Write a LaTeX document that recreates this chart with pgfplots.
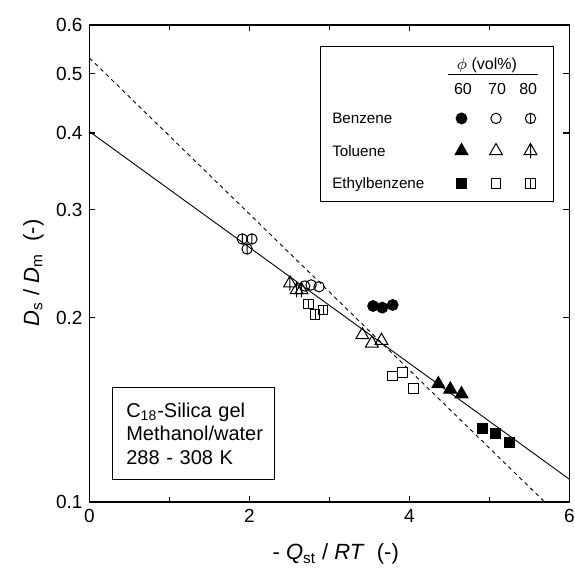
\documentclass[border=0pt]{standalone}
\usepackage{fontspec}
\setmainfont{Liberation Sans}
\usepackage{pgfplots}
\pgfplotsset{compat=1.18}

\pgfdeclareplotmark{ophi}{%
  \pgfpathcircle{\pgfpointorigin}{\pgfplotmarksize}%
  \pgfpathmoveto{\pgfqpoint{0pt}{\pgfplotmarksize}}%
  \pgfpathlineto{\pgfqpoint{0pt}{-\pgfplotmarksize}}%
  \pgfusepathqstroke}
\pgfdeclareplotmark{trisl}{%
  \pgfpathmoveto{\pgfqpoint{0pt}{\pgfplotmarksize}}%
  \pgfpathlineto{\pgfqpointpolar{-30}{\pgfplotmarksize}}%
  \pgfpathlineto{\pgfqpointpolar{-150}{\pgfplotmarksize}}%
  \pgfpathclose
  \pgfpathmoveto{\pgfqpoint{0pt}{\pgfplotmarksize}}%
  \pgfpathlineto{\pgfqpoint{0pt}{-\pgfplotmarksize}}%
  \pgfusepathqstroke}
\pgfdeclareplotmark{sqline}{%
  \pgfpathrectangle{\pgfqpoint{-\pgfplotmarksize}{-\pgfplotmarksize}}{\pgfqpoint{2\pgfplotmarksize}{2\pgfplotmarksize}}%
  \pgfpathmoveto{\pgfqpoint{0pt}{\pgfplotmarksize}}%
  \pgfpathlineto{\pgfqpoint{0pt}{-\pgfplotmarksize}}%
  \pgfusepathqstroke}

\tikzset{
  mB60/.style={mark=*, mark size=2.7pt, mark options={draw=black, fill=black, line width=0.5pt}},
  mB70/.style={mark=o, mark size=2.6pt, mark options={draw=black, fill=none, line width=0.5pt}},
  mB80/.style={mark=ophi, mark size=2.6pt, mark options={draw=black, fill=none, line width=0.5pt}},
  mT60/.style={mark=triangle*, mark size=3.7pt, mark options={draw=black, fill=black, line width=0.5pt}},
  mT70/.style={mark=triangle, mark size=3.7pt, mark options={draw=black, fill=none, line width=0.5pt}},
  mT80/.style={mark=trisl, mark size=3.7pt, mark options={draw=black, fill=none, line width=0.5pt}},
  mE60/.style={mark=square*, mark size=2.5pt, mark options={draw=black, fill=black, line width=0.5pt}},
  mE70/.style={mark=square, mark size=2.4pt, mark options={draw=black, fill=none, line width=0.5pt}},
  mE80/.style={mark=sqline, mark size=2.4pt, mark options={draw=black, fill=none, line width=0.5pt}},
}
\pgfplotsset{
  legmark/.style={legend image code/.code={%
    \path[draw=none,fill=none] (-8.125pt,-8.125pt) rectangle (8.125pt,8.125pt);
    \path[#1] plot[only marks] coordinates {(0pt,0pt)};}},
}

\pgfplotstableread{
x y
3.545 0.2088
3.66 0.2075
3.79 0.2096
}\benzA
\pgfplotstableread{
x y
2.69 0.2251
2.77 0.2260
2.87 0.2245
}\benzB
\pgfplotstableread{
x y
1.91 0.2686
2.03 0.2686
1.97 0.2587
}\benzC
\pgfplotstableread{
x y
4.36 0.1558
4.51 0.1527
4.65 0.1500
}\tolA
\pgfplotstableread{
x y
3.41 0.1873
3.53 0.1815
3.65 0.1833
}\tolB
\pgfplotstableread{
x y
2.506 0.2274
2.59 0.2218
2.65 0.2218
}\tolC
\pgfplotstableread{
x y
4.91 0.1316
5.08 0.1294
5.25 0.1250
}\ethA
\pgfplotstableread{
x y
3.79 0.1605
3.915 0.1625
4.05 0.1533
}\ethB
\pgfplotstableread{
x y
2.735 0.2104
2.82 0.2024
2.92 0.2057
}\ethC

\newcommand{\legfont}{\fontsize{7.6}{9}\selectfont}
\newcommand{\numfont}{\fontsize{8}{9}\selectfont}

\begin{document}
\begin{tikzpicture}
\path[use as bounding box] (-44.75pt,-34.5pt) rectangle (242.75pt,251pt);
\begin{axis}[
  width=240pt, height=238.5pt, scale only axis,
  xmin=0, xmax=6, ymin=0.1, ymax=0.6, ymode=log,
  xtick={0,2,4,6}, minor xtick={1,3,5},
  ytick={0.1,0.2,0.3,0.4,0.5,0.6}, yticklabels={0.1,0.2,0.3,0.4,0.5,0.6},
  yminorticks=false,
  tick align=inside, major tick length=3pt, minor tick length=2.6pt,
  tick style={black, line width=0.6pt},
  axis line style={line width=0.8pt},
  ticklabel style={font=\fontsize{9.5}{11}\selectfont},
  /pgf/number format/assume math mode=true,
  xlabel={- \textit{Q}\textsubscript{st} / \textit{RT}\ \ (-)},
  ylabel={\textit{D}\textsubscript{s} / \textit{D}\textsubscript{m}\ \ (-)},
  xlabel style={at={(axis description cs:0.513,0)}, anchor=base, yshift=-29pt, font=\fontsize{11}{13}\selectfont},
  ylabel style={at={(axis description cs:0,0.48)}, anchor=center, yshift=28pt, font=\fontsize{11}{13}\selectfont},
  legend columns=3,
  legend style={at={(rel axis cs:0.849,0.736)}, anchor=center,
    draw=none, fill=none,
    inner sep=0pt, outer sep=0pt,
    /tikz/column sep=0pt, /tikz/row sep=0pt,
    nodes={inner sep=0pt, outer sep=0pt, draw=none, fill=none}},
]
\addplot[black, line width=0.45pt, forget plot] coordinates {(0,0.402) (6,0.1089)};
\addplot[black, line width=0.45pt, dash pattern=on 2pt off 1.8pt, forget plot] coordinates {(0,0.530) (5.69,0.1)};

\addplot[only marks, mB80, forget plot] table {\benzC};
\addplot[only marks, mB70, forget plot] table {\benzB};
\addplot[only marks, mB60, forget plot] table {\benzA};
\addplot[only marks, mT80, forget plot] table {\tolC};
\addplot[only marks, mT70, forget plot] table {\tolB};
\addplot[only marks, mT60, forget plot] table {\tolA};
\addplot[only marks, mE80, forget plot] table {\ethC};
\addplot[only marks, mE70, forget plot] table {\ethB};
\addplot[only marks, mE60, forget plot] table {\ethA};

\addlegendimage{legmark=mB60}\addlegendentry{\mbox{}}
\addlegendimage{legmark=mB70}\addlegendentry{\mbox{}}
\addlegendimage{legmark=mB80}\addlegendentry{\mbox{}}
\addlegendimage{legmark=mT60}\addlegendentry{\mbox{}}
\addlegendimage{legmark=mT70}\addlegendentry{\mbox{}}
\addlegendimage{legmark=mT80}\addlegendentry{\mbox{}}
\addlegendimage{legmark=mE60}\addlegendentry{\mbox{}}
\addlegendimage{legmark=mE70}\addlegendentry{\mbox{}}
\addlegendimage{legmark=mE80}\addlegendentry{\mbox{}}

% legend frame, header and row labels
\draw[line width=0.5pt] (rel axis cs:0.482,0.631) rectangle (rel axis cs:0.966,0.954);
\node[font=\numfont, inner sep=0pt] at (rel axis cs:0.828,0.916) {$\phi$ (vol\%)};
\draw[line width=0.4pt] (rel axis cs:0.747,0.897) -- (rel axis cs:0.934,0.897);
\node[font=\numfont, inner sep=0pt] at (rel axis cs:0.778,0.866) {60};
\node[font=\numfont, inner sep=0pt] at (rel axis cs:0.849,0.866) {70};
\node[font=\numfont, inner sep=0pt] at (rel axis cs:0.914,0.866) {80};
\node[font=\legfont, inner sep=0pt, anchor=base west, yshift=-2.7pt] at (rel axis cs:0.505,0.805) {Benzene};
\node[font=\legfont, inner sep=0pt, anchor=base west, yshift=-2.7pt] at (rel axis cs:0.505,0.736) {Toluene};
\node[font=\legfont, inner sep=0pt, anchor=base west, yshift=-2.7pt] at (rel axis cs:0.505,0.669) {Ethylbenzene};

\node[draw=black, line width=0.5pt, anchor=south west, minimum width=80.6pt, minimum height=46pt,
  inner xsep=6.7pt, inner ysep=0pt, align=left, text width=67.2pt,
  font=\fontsize{10}{11.7}\selectfont]
  at (rel axis cs:0.0477,0.046)
  {C\textsubscript{18}-Silica gel\\Methanol/water\\288 - 308 K};
\end{axis}
\end{tikzpicture}
\end{document}
